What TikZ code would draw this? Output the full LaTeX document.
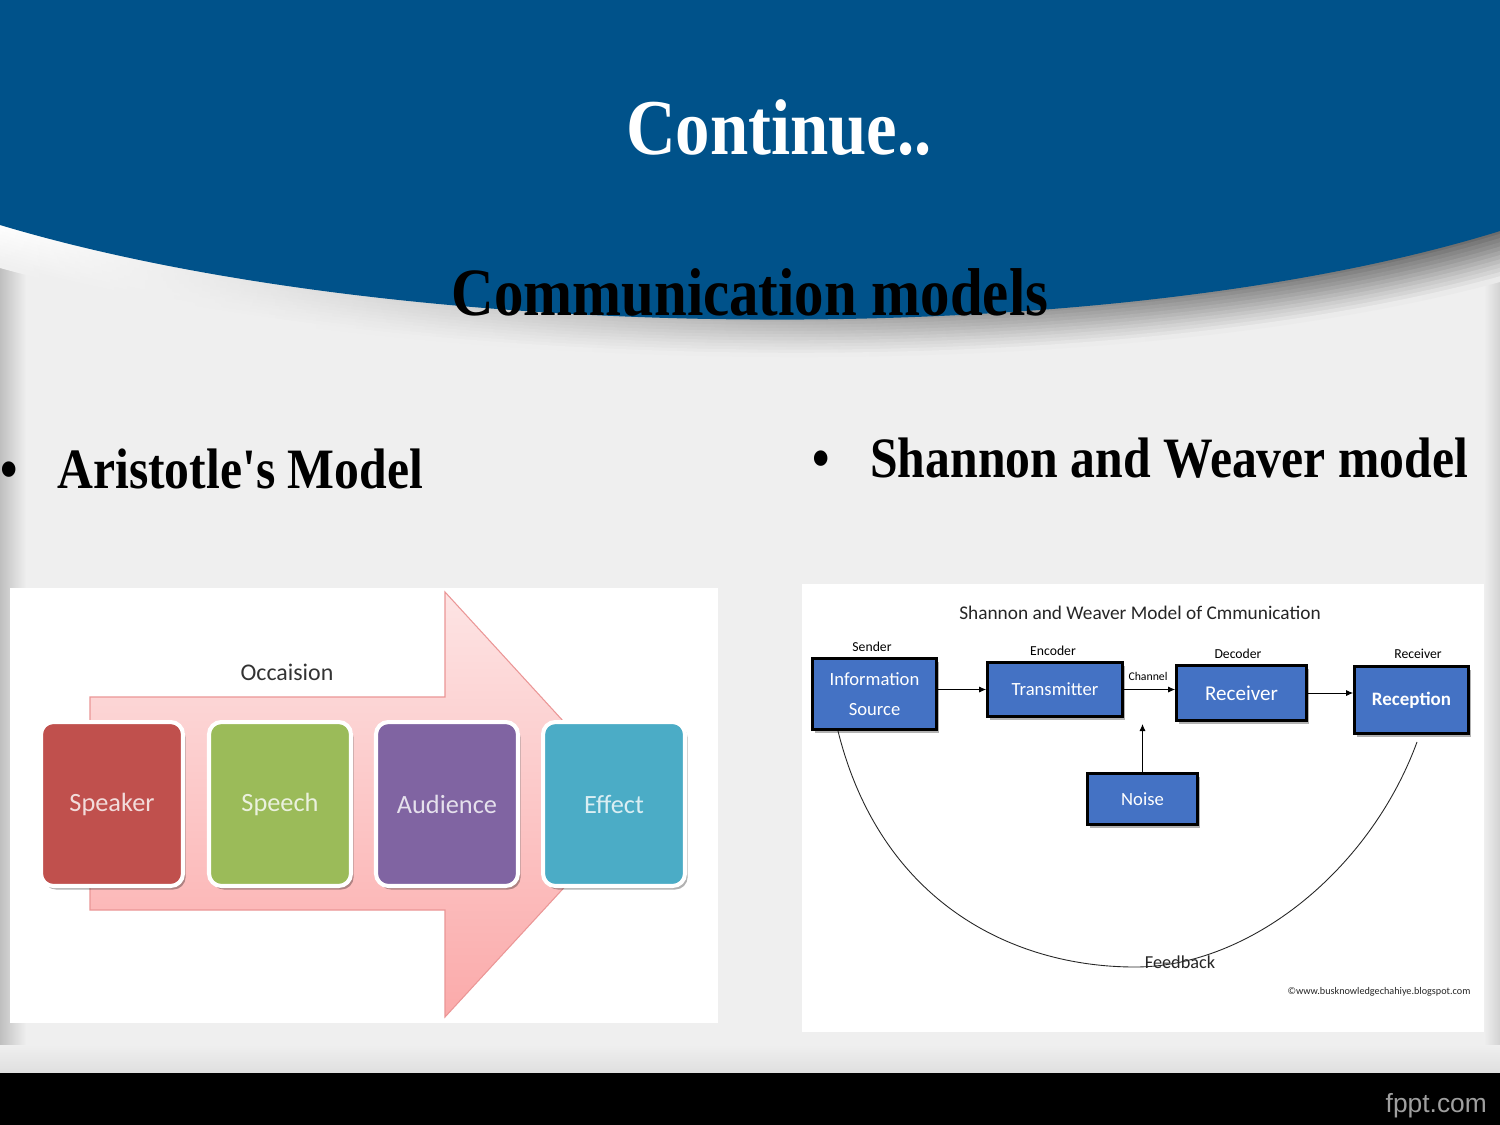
\documentclass[tikz,border=0pt]{standalone}
\usepackage{fontspec}
\setmainfont{Liberation Serif}
\newfontfamily\ttlf[FakeStretch=0.87]{Liberation Serif}
\newfontfamily\calf{Carlito}
\newfontfamily\arlf{Liberation Sans}
\usetikzlibrary{shadows,arrows.meta}
\definecolor{hdrblue}{RGB}{0,82,138}
\definecolor{bgc}{RGB}{239,239,239}
\definecolor{sred}{RGB}{192,80,77}
\definecolor{sgreen}{RGB}{155,187,89}
\definecolor{spurple}{RGB}{128,100,162}
\definecolor{scyan}{RGB}{75,172,198}
\definecolor{sblue}{RGB}{68,114,196}
\definecolor{pinktop}{RGB}{253,228,228}
\definecolor{pinkbot}{RGB}{251,170,170}
\definecolor{pinkedge}{RGB}{235,150,150}
\definecolor{tred}{RGB}{242,220,219}
\definecolor{tgreen}{RGB}{235,241,222}
\definecolor{tpurple}{RGB}{229,224,236}
\definecolor{tcyan}{RGB}{218,238,243}
\begin{document}
\begin{tikzpicture}[x=0.02cm,y=-0.02cm,
  abox/.style={rectangle, rounded corners=7pt, draw=white, line width=2.3pt,
    minimum width=2.84cm, minimum height=3.28cm,
    font=\calf\fontsize{15}{18}\selectfont,
    drop shadow={shadow xshift=1.5pt, shadow yshift=-2pt, opacity=0.3, fill=black}},
  bbox/.style={rectangle, fill=sblue, draw=black, line width=1.6pt, text=white,
    font=\calf\fontsize{10.6}{17}\selectfont, align=center,
    drop shadow={shadow xshift=1.5pt, shadow yshift=-2pt, fill=gray, opacity=0.6}},
  slbl/.style={font=\calf\fontsize{7.8}{9}\selectfont, text=black},
  arr/.style={-{Latex[length=4pt,width=3.5pt]}, line width=0.5pt},
  hdr/.style={font=\ttlf\bfseries}
]
\useasboundingbox (0,0) rectangle (1500,1125);
% background
\fill[bgc] (0,0) rectangle (1500,1125);
\shade[left color=gray!50, right color=bgc] (0,0) rectangle (26,1073);
\shade[right color=gray!35, left color=bgc] (1484,0) rectangle (1500,1073);
\shade[top color=bgc, bottom color=gray!25] (0,1045) rectangle (1500,1073);
% header swoosh (soft shadow band below the blue)
\foreach \k in {0,...,11}{
  \pgfmathsetmacro\ta{\k/12-0.03}
  \pgfmathsetmacro\tb{(\k+1)/12}
  \pgfmathtruncatemacro\pl{100*(1-(\k+0.5)/12)}
  \pgfmathtruncatemacro\pr{58*(1-(\k+0.5)/12)}
  \pgfmathtruncatemacro\pmid{16*(1-(\k+0.5)/12)}
  \shade[left color=white!\pl!bgc, middle color=black!\pmid!bgc, right color=black!\pr!bgc]
    (0,{225+43*\ta}) .. controls (400,{345+33*\ta}) and (1100,{355+35*\ta}) .. (1500,{231+51*\ta})
    -- (1500,{231+51*\tb}) .. controls (1100,{355+35*\tb}) and (400,{345+33*\tb}) .. (0,{225+43*\tb}) -- cycle;
}
\fill[hdrblue] (0,0) -- (1500,0) -- (1500,231) .. controls (1100,355) and (400,345) .. (0,225) -- cycle;
% titles
\node[hdr, text=white, font=\ttlf\bfseries\fontsize{45}{50}\selectfont, anchor=base] (title) at (779,155) {Continue..};
\node[hdr, font=\ttlf\bfseries\fontsize{38.5}{44}\selectfont, anchor=base] (subtitle) at (750,315) {Communication models};
\node[font=\ttlf\bfseries\fontsize{32.5}{38}\selectfont, anchor=base west, inner sep=0] (bul1) at (0,488) {•};
\node[font=\ttlf\bfseries\fontsize{32.5}{38}\selectfont, anchor=base west, inner sep=0] (b1) at (57,488) {Aristotle's Model};
\node[font=\ttlf\bfseries\fontsize{32.5}{38}\selectfont, anchor=base west, inner sep=0] (bul2) at (812,477) {•};
\node[font=\ttlf\bfseries\fontsize{32.5}{38}\selectfont, anchor=base west, inner sep=0] (b2) at (870,477) {Shannon and Weaver model};
% ---------- Aristotle diagram
\fill[white] (10,588) rectangle (718,1023);
\shadedraw[top color=pinktop, bottom color=pinkbot, draw=pinkedge, line width=0.6pt]
  (90,697) -- (445,697) -- (445,592) -- (640,805) -- (445,1017) -- (445,910) -- (90,910) -- cycle;
\node[font=\calf\fontsize{13.6}{16}\selectfont, text=black!80] (occ) at (287,672) {Occaision};
\node[abox, fill=sred, text=tred] (spk) at (112,804) {Speaker};
\node[abox, fill=sgreen, text=tgreen] (sph) at (280,804) {Speech};
\node[abox, fill=spurple, text=tpurple] (aud) at (447,804) {Audience};
\node[abox, fill=scyan, text=tcyan] (eff) at (614,804) {Effect};
% ---------- Shannon diagram
\fill[white] (802,584) rectangle (1484,1032);
\node[font=\calf\fontsize{11}{13}\selectfont, text=black!85] (swt) at (1140,613) {Shannon and Weaver Model of Cmmunication};
\node[bbox, minimum width=2.48cm, minimum height=1.42cm] (info) at (874.5,694) {Information\\Source};
\node[bbox, minimum width=2.70cm, minimum height=1.08cm] (trans) at (1055,689.5) {Transmitter};
\node[bbox, minimum width=2.60cm, minimum height=1.10cm, font=\calf\fontsize{12}{14}\selectfont] (recv) at (1241.5,693) {Receiver};
\node[bbox, minimum width=2.28cm, minimum height=1.34cm, font=\calf\bfseries\fontsize{10.8}{13}\selectfont] (recp) at (1411.5,700) {Reception};
\node[bbox, minimum width=2.20cm, minimum height=1.02cm] (noise) at (1142.5,799) {Noise};
\node[slbl] (lsend) at (872,647) {Sender};
\node[slbl] (lenc) at (1053,651) {Encoder};
\node[slbl] (ldec) at (1238,654) {Decoder};
\node[slbl] (lrcv) at (1418,654) {Receiver};
\node[font=\calf\fontsize{6.7}{8}\selectfont] (chan) at (1148,676) {Channel};
\draw[arr] (info.east |- trans.west) -- (trans.west);
\draw[arr] (trans.east) -- (trans.east -| recv.west);
\draw[arr] (recv.east) -- (recv.east -| recp.west);
\coordinate (nz) at (1142.5,724);
\draw[arr] (noise.north) -- (nz);
\coordinate (fbA) at (838,731);
\coordinate (fbM) at (1135,967);
\coordinate (fbB) at (1417,742);
\draw[line width=0.5pt, black!85] (fbA) .. controls (880,900) and (1010,967) .. (fbM)
  .. controls (1250,967) and (1370,870) .. (fbB);
\node[font=\calf\fontsize{10.4}{12}\selectfont, text=black!85] (fb) at (1180,962) {Feedback};
\node[font=\calf\fontsize{5.8}{7}\selectfont, text=black!85] (copy) at (1379,992) {©www.busknowledgechahiye.blogspot.com};
% bottom bar
\fill[black] (0,1073) rectangle (1500,1125);
\node[font=\arlf\fontsize{15}{17}\selectfont, text=gray!75, anchor=base east] (fppt) at (1493,1112) {fppt.com};
\end{tikzpicture}
\end{document}
